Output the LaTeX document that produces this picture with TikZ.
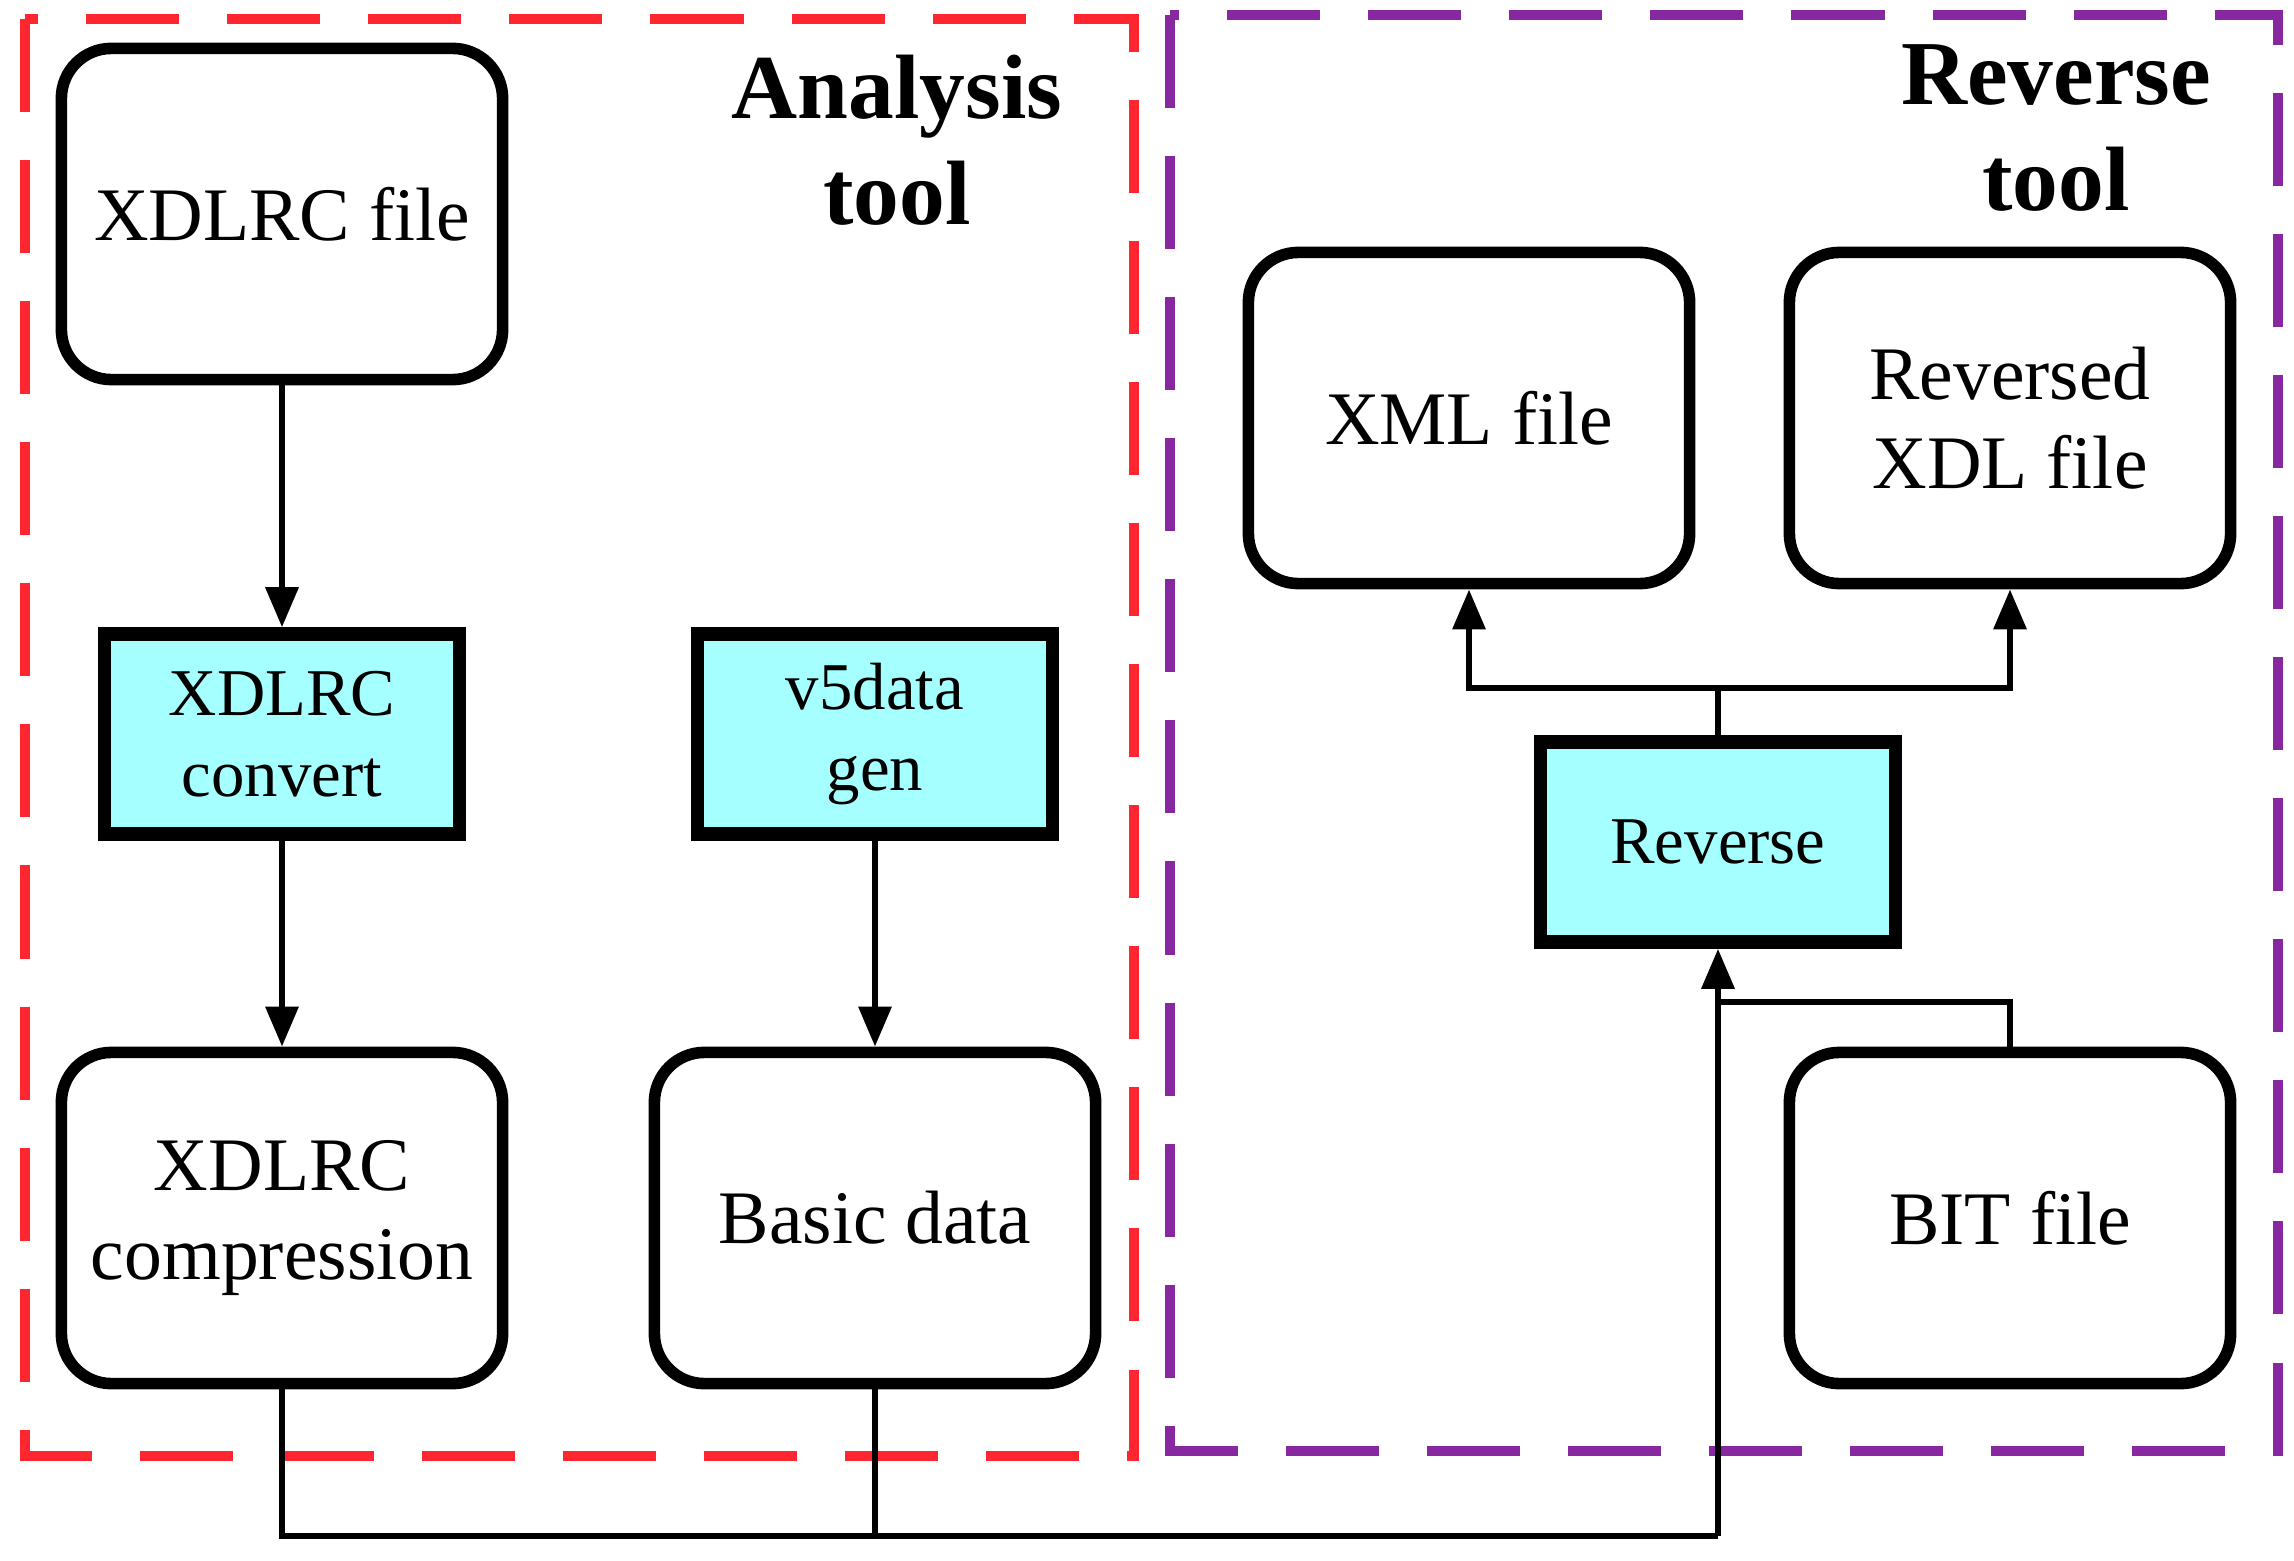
\documentclass[tikz,border=0pt]{standalone}
\usepackage{fontspec}
\setmainfont{Liberation Serif}
\usetikzlibrary{arrows.meta}
\definecolor{boxcyan}{RGB}{166,255,255}
\definecolor{anared}{RGB}{255,38,48}
\definecolor{revpurple}{RGB}{136,40,160}

\begin{document}
\begin{tikzpicture}[x=0.01cm,y=-0.01cm,
	filebox/.style={draw,line width=3.3pt,rounded corners=0.5cm,minimum width=4.41cm,minimum height=3.31cm,align=center,font=\fontsize{21.5}{25.5}\selectfont},
	toolbox/.style={draw,line width=3.8pt,fill=boxcyan,minimum width=3.55cm,minimum height=2cm,align=center,font=\fontsize{19}{23}\selectfont},
	conn/.style={line width=1.8pt},
	arr/.style={conn,-{Triangle[length=0.4cm,width=0.32cm]}},
	group/.style={line width=2.8pt,dash pattern=on 0.93cm off 0.48cm},
	title/.style={align=center,font=\fontsize{26}{30}\selectfont\bfseries}]
		\useasboundingbox (0,0) rectangle (2294,1561);
		% tool frames
		\draw[group,anared] (25,19) rectangle (1134,1456);
		\draw[group,revpurple] (1170,15) rectangle (2278,1451);
		\node[title] (anatitle) at (897,140) {Analysis\\tool};
		\node[title] (revtitle) at (2056,128) {Reverse\\tool};
		% analysis side
		\node[filebox] (xfile) at (282,214) {XDLRC file};
		\node[toolbox] (xconv) at (282,734) {XDLRC\\convert};
		\node[toolbox] (vgen) at (875,734) {v5data\\gen};
		\node[filebox] (xcomp) at (282,1218) {XDLRC\\compression};
		\node[filebox] (basic) at (875,1218) {Basic data};
		% reverse side
		\node[filebox] (xml) at (1469,418) {XML file};
		\node[filebox] (rxdl) at (2010,418) {Reversed\\XDL file};
		\node[toolbox] (rev) at (1718,842) {Reverse};
		\node[filebox] (bit) at (2010,1218) {BIT file};
		\coordinate (bus) at (1718,1536);
		\coordinate (bitjoin) at (1718,1002);
		\coordinate (split) at (1718,688);
		% connectors
		\draw[arr] (xfile) -- (xconv);
		\draw[arr] (xconv) -- (xcomp);
		\draw[arr] (vgen) -- (basic);
		\draw[conn] (xcomp.south) |- (bus);
		\draw[conn] (basic.south) -- (basic.south |- bus);
		\draw[arr] (bus) -- (rev.south);
		\draw[conn] (bit.north) |- (bitjoin);
		\draw[conn] (rev.north) -- (split);
		\draw[arr] (split) -| (xml.south);
		\draw[arr] (split) -| (rxdl.south);
\end{tikzpicture}
\end{document}
